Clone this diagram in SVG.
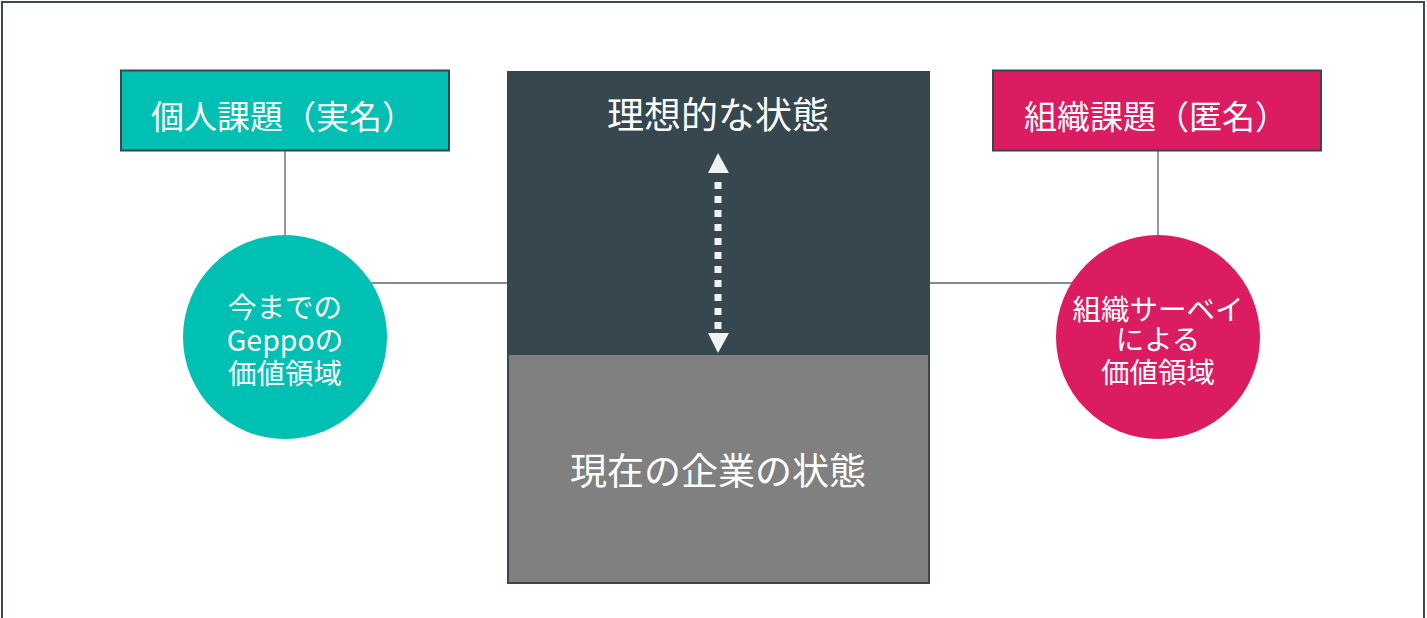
<svg xmlns="http://www.w3.org/2000/svg" width="1427" height="618" viewBox="0 0 1427 618">
<style>
.t{font-family:"Noto Sans CJK JP","Noto Sans",sans-serif;fill:#fff;}
.ln{stroke:#5a656c;stroke-width:1.3;fill:none;}
.ah{fill:#f2f2f2;}
</style>
<rect x="0" y="0" width="1427" height="618" fill="#fff"/>
<path d="M2,618 V2 H1424 V618" fill="none" stroke="#3d4a52" stroke-width="2"/>
<g id="connectors">
<line class="ln" x1="285" y1="151" x2="285" y2="237"/>
<line class="ln" x1="370" y1="283" x2="507" y2="283"/>
<line class="ln" x1="930" y1="283" x2="1073" y2="283"/>
<line class="ln" x1="1158" y1="151" x2="1158" y2="237" stroke="#9aa1a6"/>
</g>
<g id="box-personal">
<rect x="121" y="70.5" width="328" height="80" fill="#00bfb3" stroke="#37474f" stroke-width="2"/>
<text class="t" x="151" y="129" font-size="33">個人課題（実名）</text>
</g>
<g id="box-org">
<rect x="993" y="70.5" width="328" height="80" fill="#db1c60" stroke="#37474f" stroke-width="2"/>
<text class="t" x="1024" y="129" font-size="33">組織課題（匿名）</text>
</g>
<g id="ideal">
<rect x="507" y="71" width="423" height="283" fill="#37474f"/>
<text class="t" x="718" y="129" font-size="37" text-anchor="middle">理想的な状態</text>
</g>
<g id="current">
<rect x="508" y="354" width="421" height="229" fill="#808080" stroke="#37474f" stroke-width="2"/>
<text class="t" x="718" y="485" font-size="37" text-anchor="middle">現在の企業の状態</text>
</g>
<g id="gap-arrow">
<line x1="718" y1="176" x2="718" y2="330" stroke="#f2f2f2" stroke-width="7" stroke-dasharray="7 7" stroke-dashoffset="-6"/>
<polygon class="ah" points="718,153 708,173 729,173"/>
<polygon class="ah" points="718,353 708,333 729,333"/>
</g>
<g id="circle-geppo">
<circle cx="285" cy="337" r="102" fill="#00bfb3"/>
<text class="t" font-size="28.5" text-anchor="middle"><tspan x="285" y="318">今までの</tspan><tspan x="285" y="351">Geppoの</tspan><tspan x="285" y="384">価値領域</tspan></text>
</g>
<g id="circle-survey">
<circle cx="1158" cy="337" r="102" fill="#db1c60"/>
<text class="t" font-size="28.5" text-anchor="middle"><tspan x="1158" y="320">組織サーベイ</tspan><tspan x="1158" y="350">による</tspan><tspan x="1158" y="383">価値領域</tspan></text>
</g>
</svg>
